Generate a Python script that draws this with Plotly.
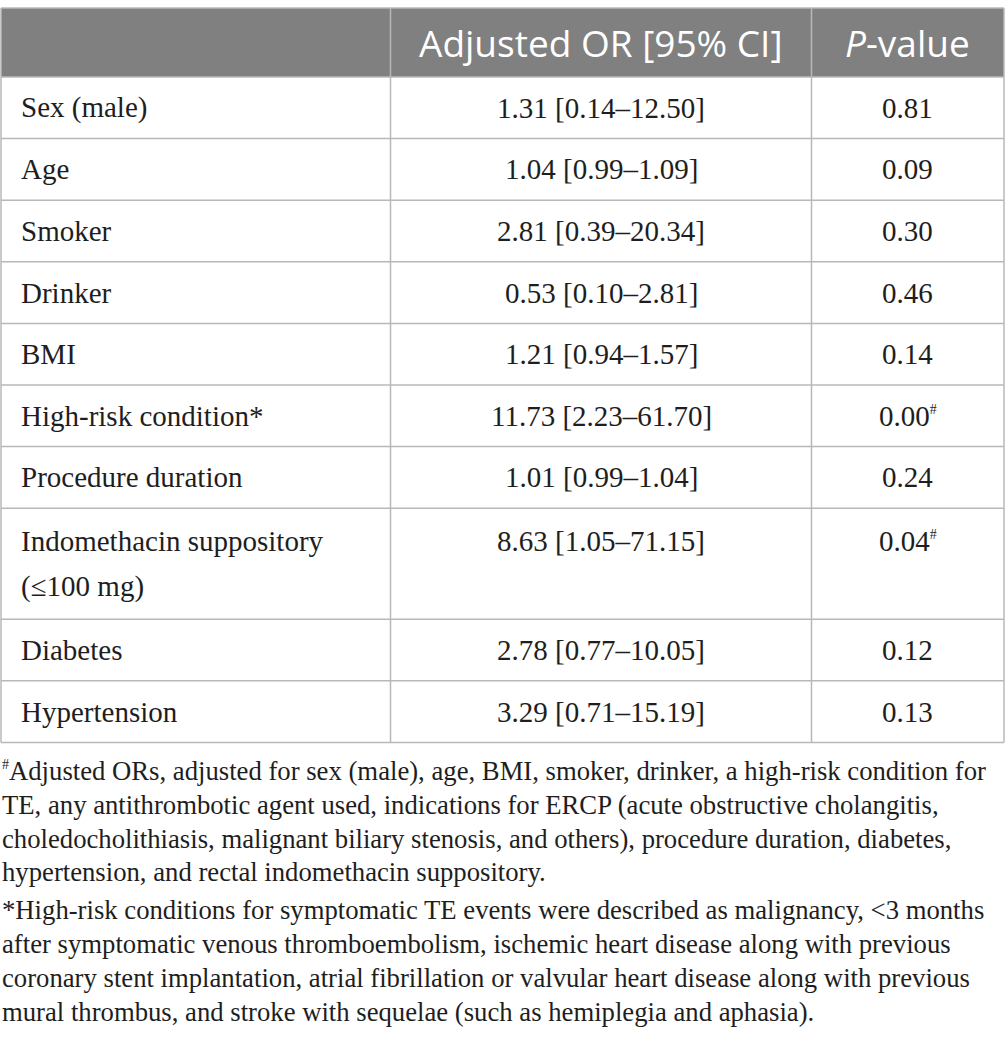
import plotly.graph_objects as go

# Table content
headers = ["", "Adjusted OR [95% CI]", "<i>P</i>-value"]
variables = [
    "Sex (male)", "Age", "Smoker", "Drinker", "BMI", "High-risk condition*",
    "Procedure duration", "Indomethacin suppository<br>(≤100 mg)", "Diabetes", "Hypertension",
]
or_ci = [
    "1.31 [0.14–12.50]", "1.04 [0.99–1.09]", "2.81 [0.39–20.34]", "0.53 [0.10–2.81]",
    "1.21 [0.94–1.57]", "11.73 [2.23–61.70]", "1.01 [0.99–1.04]", "8.63 [1.05–71.15]",
    "2.78 [0.77–10.05]", "3.29 [0.71–15.19]",
]
SUP = "<sup><span style='font-size:14px'>#</span></sup>"
p_values = [
    "0.81", "0.09", "0.30", "0.46", "0.14", "0.00" + SUP,
    "0.24", "0.04" + SUP, "0.12", "0.13",
]

# Footnotes, one list per paragraph (wrapped as in the original)
note_adjusted = [
    SUP + "Adjusted ORs, adjusted for sex (male), age, BMI, smoker, drinker, a high-risk condition for",
    "TE, any antithrombotic agent used, indications for ERCP (acute obstructive cholangitis,",
    "choledocholithiasis, malignant biliary stenosis, and others), procedure duration, diabetes,",
    "hypertension, and rectal indomethacin suppository.",
]
note_highrisk = [
    "*High-risk conditions for symptomatic TE events were described as malignancy, <3 months",
    "after symptomatic venous thromboembolism, ischemic heart disease along with previous",
    "coronary stent implantation, atrial fibrillation or valvular heart disease along with previous",
    "mural thrombus, and stroke with sequelae (such as hemiplegia and aphasia).",
]

# Layout settings
W, H = 1005, 1060
TOP = 8
HEAD_H = 69
ROW_H = 61.6
EXTRA_LINE_H = 49.4   # added row height per extra text line
TEXT_LINE_GAP = 46
COL_EDGES = [1, 390.5, 811.5, 1004]
PAD_LEFT = 18
GRID = "#b8b8b8"
HEAD_BG = "#808080"
TEXT = "#1e1e1e"
SERIF = "Liberation Serif"
BODY_SIZE = 29
NOTE_SIZE = 26.7
NOTE_TOP = 771
NOTE_GAP = 33.8
PARA_GAP = 4

fig = go.Figure()
shapes = []
annotations = []

# header
head_bottom = TOP + HEAD_H
shapes.append(dict(type="rect", x0=COL_EDGES[0], x1=COL_EDGES[-1], y0=TOP, y1=head_bottom,
                   fillcolor=HEAD_BG, line=dict(width=0), layer="below"))
for j, h in enumerate(headers):
    if not h:
        continue
    annotations.append(dict(
        x=(COL_EDGES[j] + COL_EDGES[j + 1]) / 2, y=(TOP + head_bottom) / 2,
        text=h, xanchor="center", yanchor="middle",
        font=dict(family="Open Sans", size=37, color="white"),
    ))

# body rows
row_lines = [TOP, head_bottom]
y = head_bottom
for name, ci, p in zip(variables, or_ci, p_values):
    lines = name.split("<br>")
    h = ROW_H + (len(lines) - 1) * EXTRA_LINE_H
    mid = y + h / 2
    for k, ln in enumerate(lines):
        annotations.append(dict(
            x=COL_EDGES[0] + PAD_LEFT, y=mid + (k - (len(lines) - 1) / 2) * TEXT_LINE_GAP,
            text=ln, xanchor="left", yanchor="middle",
            font=dict(family=SERIF, size=BODY_SIZE, color=TEXT),
        ))
    top_line = mid - (len(lines) - 1) / 2 * TEXT_LINE_GAP
    for j, val in ((1, ci), (2, p)):
        annotations.append(dict(
            x=(COL_EDGES[j] + COL_EDGES[j + 1]) / 2, y=top_line,
            text=val, xanchor="center", yanchor="middle",
            font=dict(family=SERIF, size=BODY_SIZE, color=TEXT),
        ))
    y += h
    row_lines.append(y)

# grid lines
for ry in row_lines:
    shapes.append(dict(type="line", x0=COL_EDGES[0], x1=COL_EDGES[-1], y0=ry, y1=ry,
                       line=dict(color=GRID, width=1.5)))
for cx in COL_EDGES:
    shapes.append(dict(type="line", x0=cx, x1=cx, y0=TOP, y1=row_lines[-1],
                       line=dict(color=GRID, width=1.5)))

# footnotes
ny = NOTE_TOP
for p_i, para in enumerate([note_adjusted, note_highrisk]):
    if p_i:
        ny += PARA_GAP
    for note in para:
        annotations.append(dict(
            x=0, y=ny, text=note, xanchor="left", yanchor="middle",
            font=dict(family=SERIF, size=NOTE_SIZE, color=TEXT),
        ))
        ny += NOTE_GAP

for a in annotations:
    a.update(xref="x", yref="y", showarrow=False)

fig.update_layout(
    width=W, height=H,
    margin=dict(l=0, r=0, t=0, b=0),
    paper_bgcolor="white", plot_bgcolor="white",
    xaxis=dict(range=[0, W], visible=False, fixedrange=True),
    yaxis=dict(range=[H, 0], visible=False, fixedrange=True),
    shapes=shapes, annotations=annotations,
    showlegend=False,
)

# drop the default page margin so the figure fills the window
fig.write_html("out.html", config={"displayModeBar": False},
               post_script="document.body.style.margin='0';")
